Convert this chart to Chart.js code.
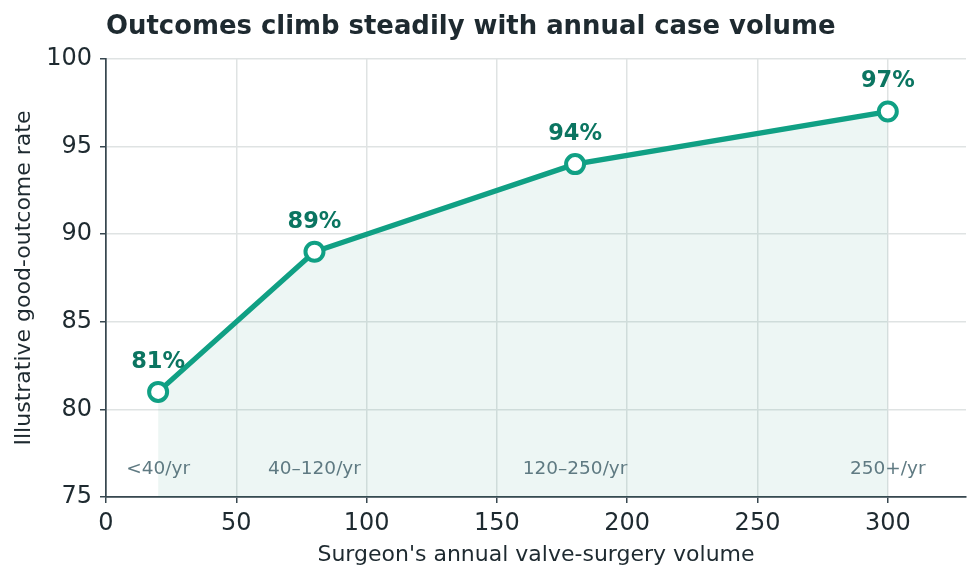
<!DOCTYPE html>
<html lang="en">
<head>
    <meta charset="UTF-8">
    <title>Outcomes vs annual case volume</title>
    <script src="https://cdn.jsdelivr.net/npm/chart.js"></script>
    <style>
        html, body { margin: 0; padding: 0; background: #fff; }
        #wrap { width: 980px; height: 580px; position: relative; }
    </style>
</head>
<body>
    <div id="wrap"><canvas id="volume-chart"></canvas></div>

    <script>
        // Data
        const volumes = [20, 80, 180, 300];
        const outcomeRates = [81, 89, 94, 97];
        const bandLabels = ['<40/yr', '40\u2013120/yr', '120\u2013250/yr', '250+/yr'];
        const xTicks = [0, 50, 100, 150, 200, 250, 300];
        const yTicks = [75, 80, 85, 90, 95, 100];

        const TEAL = '#10a084';
        const TEAL_DARK = '#0b7561';
        const FONT = "'DejaVu Sans', sans-serif";

        // Title, point labels and band labels drawn on top
        const annotations = {
            id: 'annotations',
            afterDatasetsDraw(chart) {
                const { ctx, scales: { x, y }, chartArea } = chart;
                ctx.save();

                ctx.fillStyle = '#1e2a30';
                ctx.font = "bold 25.9px " + FONT;
                ctx.textAlign = 'left';
                ctx.textBaseline = 'middle';
                ctx.fillText('Outcomes climb steadily with annual case volume', chartArea.left, 27);

                ctx.textAlign = 'center';
                ctx.font = "bold 22.5px " + FONT;
                ctx.fillStyle = TEAL_DARK;
                volumes.forEach((v, i) => {
                    ctx.fillText(outcomeRates[i] + '%', x.getPixelForValue(v), y.getPixelForValue(outcomeRates[i]) - 30);
                });

                ctx.font = "18.5px " + FONT;
                ctx.fillStyle = '#5f7a82';
                volumes.forEach((v, i) => {
                    ctx.fillText(bandLabels[i], x.getPixelForValue(v), y.getPixelForValue(76.6));
                });
                ctx.restore();
            }
        };

        const ctx = document.getElementById('volume-chart').getContext('2d');
        new Chart(ctx, {
            type: 'line',
            data: {
                datasets: [{
                    data: volumes.map((v, i) => ({ x: v, y: outcomeRates[i] })),
                    borderColor: TEAL,
                    borderWidth: 5.3,
                    backgroundColor: 'rgba(20, 140, 120, 0.08)',
                    fill: 'start',
                    tension: 0,
                    pointRadius: 9,
                    pointBorderWidth: 4,
                    pointBackgroundColor: '#ffffff',
                    pointBorderColor: TEAL
                }]
            },
            options: {
                responsive: true,
                maintainAspectRatio: false,
                animation: false,
                devicePixelRatio: 1,
                layout: { padding: { top: 59, right: 14, left: 0, bottom: 0 } },
                plugins: {
                    legend: { display: false },
                    tooltip: { enabled: false }
                },
                scales: {
                    x: {
                        type: 'linear',
                        min: 0,
                        max: 330,
                        afterBuildTicks: s => { s.ticks = xTicks.map(v => ({ value: v })); },
                        afterFit: s => { s.height = 83; },
                        grid: { color: '#dfe3e3', lineWidth: 1.5, tickLength: 6, tickColor: '#37474f', tickWidth: 1.5 },
                        border: { color: '#37474f', width: 1.7 },
                        ticks: { color: '#1e2a30', font: { family: FONT, size: 24 }, padding: 6, maxRotation: 0 },
                        title: {
                            display: true,
                            text: "Surgeon's annual valve-surgery volume",
                            color: '#1e2a30',
                            font: { family: FONT, size: 22 },
                            padding: { top: 0, bottom: 12 }
                        }
                    },
                    y: {
                        min: 75,
                        max: 100,
                        afterBuildTicks: s => { s.ticks = yTicks.map(v => ({ value: v })); },
                        afterFit: s => { s.width = 106; },
                        grid: { color: '#dfe3e3', lineWidth: 1.5, tickLength: 6, tickColor: '#37474f', tickWidth: 1.5 },
                        border: { color: '#37474f', width: 1.7 },
                        ticks: { color: '#1e2a30', font: { family: FONT, size: 24 }, padding: 8 },
                        title: {
                            display: true,
                            text: 'Illustrative good-outcome rate',
                            color: '#1e2a30',
                            font: { family: FONT, size: 22 },
                            padding: { top: 11, bottom: 11 }
                        }
                    }
                }
            },
            plugins: [annotations]
        });
    </script>
</body>
</html>
